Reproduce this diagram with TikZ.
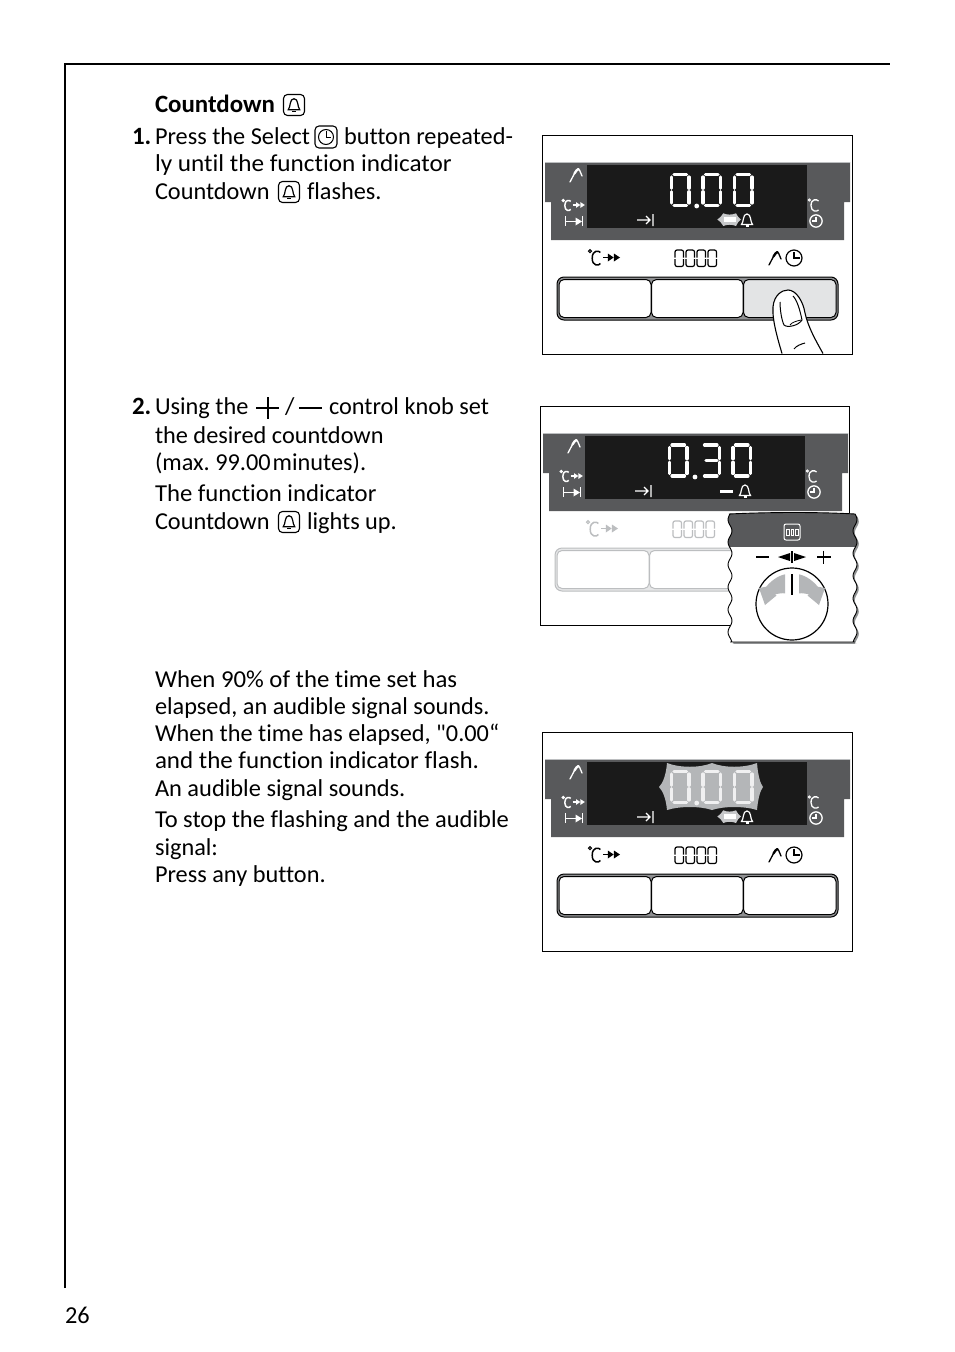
\documentclass[tikz,border=0pt]{standalone}
\usepackage{fontspec}
\usepackage{graphicx}
\setmainfont{Carlito}[Ligatures=NoCommon]
\newfontfamily\plainfont{Carlito}[Ligatures=NoCommon]
\definecolor{bandc}{HTML}{58595B}
\definecolor{screenc}{HTML}{1A1A1A}
\definecolor{flashc}{HTML}{B4B6B8}
\definecolor{dimc}{HTML}{BCBEC0}
\definecolor{pressc}{HTML}{E3E4E5}
\definecolor{midc}{HTML}{8F9092}
\definecolor{dimmidc}{HTML}{E6E7E8}
\tikzset{
  txt/.style={anchor=base west,inner sep=0pt,outer sep=0pt,font=\fontsize{24.3}{26}\selectfont\frenchspacing},
  boldtxt/.style={anchor=base west,inner sep=0pt,outer sep=0pt,font=\fontsize{24.9}{26}\bfseries\selectfont},
  seg/.style={line width=3.2pt,line cap=round},
  framebox/.style={draw=black,line width=1pt,fill=white},
}
\newcommand{\stretched}[2]{\scalebox{#1}[1]{#2}}
% 7-segment digits
\newcommand{\dzero}[3]{\begin{scope}[shift={(#1,#2)},seg,#3]
 \draw (2.5,0)--(15,0); \draw (17.5,2.5)--(17.5,13.8); \draw (17.5,17.2)--(17.5,28.5); \draw (2.5,31)--(15,31);
 \draw (0,17.2)--(0,28.5); \draw (0,2.5)--(0,13.8);\end{scope}}
\newcommand{\dthree}[3]{\begin{scope}[shift={(#1,#2)},seg,#3]
 \draw (2.5,0)--(15,0); \draw (17.5,2.5)--(17.5,13.8); \draw (17.5,17.2)--(17.5,28.5); \draw (2.5,31)--(15,31);
 \draw (4,15.5)--(15,15.5);\end{scope}}
% icons, all centred at the given point
\newcommand{\icontemp}[4]{\begin{scope}[shift={(#1,#2)},scale=#3,#4,line width=1.5pt]
 \draw[line width=1.1pt] (-15,-6.3) circle (1.5);
 \draw (-4.6,-5) .. controls (-6,-7.2) and (-12.8,-7.8) .. (-12.8,0.7) .. controls (-12.8,9) and (-6,8.4) .. (-4.6,6);
 \draw (-2,0)--(4,0);
 \fill (2.8,-4)--(8.7,0)--(2.8,4)--cycle;
 \fill (8.9,-4)--(15,0)--(8.9,4)--cycle;\end{scope}}
\newcommand{\iconclock}[4]{\begin{scope}[shift={(#1,#2)},scale=#3,#4,line width=1.3pt]
 \draw (0,0) circle (7);
 \draw (0,-5)--(0,0)--(-5,0);\end{scope}}
\newcommand{\iconclockb}[4]{\begin{scope}[shift={(#1,#2)},scale=#3,#4,line width=1.2pt]
 \draw (0,0) circle (8);
 \draw (0,-6)--(0,0)--(5.5,0);\end{scope}}
\newcommand{\iconbell}[4]{\begin{scope}[shift={(#1,#2)},scale=#3,#4,line width=1.2pt]
 \draw (-5.5,4.5) .. controls (-3,2) and (-4.5,-6) .. (0,-6) .. controls (4.5,-6) and (3,2) .. (5.5,4.5) -- cycle;
 \draw (-1.5,6)--(1.5,6);\end{scope}}
\newcommand{\iconprobe}[3]{\begin{scope}[shift={(#1,#2)},#3,line cap=round]
 \draw[line width=1.3pt] (0,14) -- (5,4.5) .. controls (7,1) and (8.5,0) .. (9.5,2) -- (12,8);
 \draw[line width=2.3pt] (4.5,5.5) -- (6.5,2.5) -- (8.5,1);\end{scope}}
\newcommand{\iconfour}[3]{\begin{scope}[shift={(#1,#2)},#3,line width=1.2pt]
 \foreach \q in {0,11,22,33}{
  \draw[rounded corners=2pt] (\q,7.6)--(\q,0)--(\q+8.5,0)--(\q+8.5,7.6);
  \draw[rounded corners=2pt] (\q,9)--(\q,16.5)--(\q+8.5,16.5)--(\q+8.5,9);}\end{scope}}
% the display panel
\newcommand{\panelband}[2]{\begin{scope}[shift={(#1,#2)}]
 \fill[bandc] (3,27)--(308,27)--(308,67)--(302,67)--(302,105)--(9,105)--(9,67)--(3,67)--cycle;
 \draw[dimc,line width=.8pt] (3,27)--(308,27);
 \fill[screenc] (45,30) rectangle (265,93);
 \iconprobe{28}{33}{draw=white}
 \icontemp{32}{70}{.72}{draw=white,fill=white}
 \draw[white,line width=1.2pt] (23.7,81)--(23.7,91) (40.3,81)--(40.3,91) (23.7,86.5)--(37,86.5);
 \fill[white] (33.5,82.5)--(40,86.5)--(33.5,90.5)--cycle;
 \draw[white,line width=1.2pt] (95,85)--(108,85) (104,81)--(108,85)--(104,89) (111,79)--(111,91);
 \iconbell{205}{85}{1}{draw=white}
 \draw[white,line width=.9pt] (267.3,65) circle (1.1);
 \draw[white,line width=1.3pt] (276.5,66) .. controls (275,64) and (269,63.5) .. (269,70.5) .. controls (269,77) and (275,77) .. (276.5,75);
 \iconclock{274}{86}{.88}{draw=white}
\end{scope}}
\newcommand{\panellabels}[3]{\begin{scope}[shift={(#1,#2)}]
 \icontemp{63}{122.5}{1}{draw=#3,fill=#3}
 \iconfour{133}{115}{draw=#3}
\end{scope}}
\newcommand{\panelprobeclock}[2]{\begin{scope}[shift={(#1,#2)}]
 \iconprobe{227}{116}{draw=black}
 \iconclockb{252}{123}{1}{draw=black}
\end{scope}}
\newcommand{\smalldash}[2]{\fill[white] (#1,#2) rectangle (#1+13,#2+3);}
\newcommand{\hexmark}[2]{\begin{scope}[shift={(#1,#2)}]
 \fill[flashc!75!white] (175.3,84.5) .. controls (177.5,83) and (180,81) .. (181.3,78.3)
   .. controls (185,80) and (190,80) .. (194,78.3) .. controls (195,81) and (197,83) .. (199,84.5)
   .. controls (197,86) and (195,88) .. (194,91) .. controls (190,89.3) and (185,89.3) .. (181.3,91)
   .. controls (180,88) and (177.5,86) .. (175.3,84.5) -- cycle;
 \fill[white] (181.5,82.2) rectangle (194,86.8);
\end{scope}}
% x, y, line colour, middle colour, fill of third button
\newcommand{\panelbuttons}[5]{\begin{scope}[shift={(#1,#2)}]
 \draw[draw=#3,line width=1pt,fill=#4,rounded corners=7pt] (15,142) rectangle (296,185);
 \draw[draw=#3,line width=1pt,fill=white,rounded corners=5pt] (17,144.5) rectangle (109,182.5);
 \draw[draw=#3,line width=1pt,fill=white,rounded corners=5pt] (109.5,144.5) rectangle (201,182.5);
 \draw[draw=#3,line width=1pt,fill=#5,rounded corners=5pt] (201.5,144.5) rectangle (294,182.5);
\end{scope}}
% inline symbol boxes
\newcommand{\boxbell}[2]{\begin{scope}[shift={(#1,#2)}]
 \draw[black,line width=1.1pt,rounded corners=4pt] (-10.5,-10.5) rectangle (10.5,10.5);
 \iconbell{0}{0}{1.05}{draw=black}\end{scope}}
\newcommand{\boxclock}[2]{\begin{scope}[shift={(#1,#2)}]
 \draw[black,line width=1.1pt,rounded corners=4pt] (-11,-11) rectangle (11,11);
 \draw[black,line width=1pt] (0,0) circle (7.5);
 \draw[black,line width=1pt] (0,-6)--(0,0)--(5,0);\end{scope}}
\newcommand{\kneearrow}{(7,-29.7) .. controls (15,-28) and (22,-22) .. (25.7,-17.3) -- (33,-16) -- (27,1) -- (15.5,-8.5) -- (17,-9.5) .. controls (14,-10.5) and (10,-11) .. (7,-10.7) -- cycle}
\newcommand{\insetpath}{(729,514) .. controls (770,512) and (820,512) .. (855,514)
  -- plot[variable=\t,domain=514:642,samples=65,smooth] ({855+2*sin((\t-514)*16)},\t)
  -- (855,642) -- (730,642)
  -- plot[variable=\t,domain=642:514,samples=65,smooth] ({730-2*sin((\t-514)*16)},\t) -- cycle}
\begin{document}
\begin{tikzpicture}[x=1pt,y=-1pt]
\useasboundingbox (0,0) rectangle (954,1352);
\fill[white] (0,0) rectangle (954,1352);
% page rule
\draw[black,line width=2pt] (65,1288)--(65,64)--(890,64);
% text
\node[boldtxt] (h1) at (155,112) {Countdown};
\boxbell{294}{105}
\node[boldtxt] (n1) at (132,144) {1.};
\node[txt] (t1a) at (155,144) {Press the Select};
\boxclock{326}{137}
\node[txt] (t1b) at (344,144) {button repeated-};
\node[txt] (t1c) at (155,171) {\stretched{1.038}{ly until the function indicator}};
\node[txt] (t1d) at (155,199) {Countdown};
\boxbell{289}{192}
\node[txt] (t1e) at (307,199) {flashes.};
\node[boldtxt] (n2) at (132,414) {2.};
\node[txt] (t2a) at (155,414) {Using the};
\draw[black,line width=2pt] (256,408)--(279,408) (267.5,397)--(267.5,419);
\node[txt] (t2s) at (285,414) {/};
\draw[black,line width=2pt] (299,408)--(322,408);
\node[txt] (t2b) at (329,414) {control knob set};
\node[txt] (t2c) at (155,443) {the desired countdown};
\node[txt] (t2d) at (155,470) {(max. 99.00\kern2pt minutes).};
\node[txt] (t2e) at (155,501) {\stretched{1.018}{The function indicator}};
\node[txt] (t2f) at (155,529) {Countdown};
\boxbell{289}{522}
\node[txt] (t2g) at (307,529) {lights up.};
\node[txt] (t3a) at (155,687) {\stretched{1.02}{When 90\% of the time set has}};
\node[txt] (t3b) at (155,714) {elapsed, an audible signal sounds.};
\node[txt] (t3c) at (155,741) {When the time has elapsed, {\plainfont"}0.00“};
\node[txt] (t3d) at (155,768) {\stretched{1.029}{and the function indicator flash.}};
\node[txt] (t3e) at (155,796) {\stretched{1.005}{An audible signal sounds.}};
\node[txt] (t3f) at (155,827) {\stretched{1.008}{To stop the flashing and the audible}};
\node[txt] (t3g) at (155,855) {signal:};
\node[txt] (t3h) at (155,882) {Press any button.};
\node[txt] (page) at (65,1323) {26};
% PANEL 1
\draw[framebox] (542.5,135.5) rectangle (852.5,354);
\panelband{542}{135}
\dzero{671.5}{174.5}{white}\dzero{703}{174.5}{white}\dzero{734.5}{174.5}{white}
\fill[white] (696.7,206) circle (2.4);
\hexmark{542}{135}
\panellabels{542}{135}{black}
\panelprobeclock{542}{135}
\panelbuttons{542}{135}{black}{midc}{pressc}
\begin{scope}[shift={(542,135)}]
 \fill[white] (240,218.5) .. controls (236,205) and (230,185) .. (231,172)
   .. controls (232,160) and (240,155) .. (246,155) .. controls (254,155) and (261,166) .. (263,178)
   .. controls (266,192) and (274,206) .. (281,218.5) -- cycle;
 \draw[black,line width=1.1pt] (240,218.5) .. controls (236,205) and (230,185) .. (231,172)
   .. controls (232,160) and (240,155) .. (246,155) .. controls (254,155) and (261,166) .. (263,178)
   .. controls (266,192) and (274,206) .. (281,218.5);
 \draw[black,line width=1pt] (238,167) .. controls (238,176) and (240,186) .. (242,190)
   .. controls (245,193) and (256,191) .. (260,185) .. controls (258,175) and (255,165) .. (251,161);
 \draw[black,line width=.8pt] (248,190) .. controls (250,187) and (255,186) .. (259,185);
 \draw[black,line width=1pt] (252,214) .. controls (254,211) and (259,209) .. (263,208);
\end{scope}
% PANEL 2
\draw[framebox] (540.5,406.5) rectangle (849.5,625.5);
\panelband{540}{406}
\dzero{669.5}{445}{white}\dthree{702}{445}{white}\dzero{733}{445}{white}
\fill[white] (695,477) circle (2.4);
\smalldash{720}{490}
\panellabels{540}{406}{dimc}
\panelbuttons{540}{406}{dimc}{dimmidc}{white}
% knob inset
\fill[flashc!80!black,shift={(1.8,1.8)}] \insetpath;
\fill[white] \insetpath;
\begin{scope}
 \clip \insetpath;
 \fill[bandc] (720,505) rectangle (865,547);
\end{scope}
\draw[black,line width=.9pt] \insetpath;
\draw[white,line width=1pt,rounded corners=2pt] (784,524) rectangle (800,540);
\foreach \q in {786.5,791,795.5}{\draw[white,line width=.7pt] (\q,529) rectangle (\q+2.6,535);}
\draw[black,line width=1.2pt] (756,557)--(769,557) (817,557)--(830.5,557) (823.7,550.5)--(823.7,563.5);
\fill[black] (778,557)--(790,553)--(790,561)--cycle (806,557)--(794,553)--(794,561)--cycle;
\draw[black,line width=1.4pt] (792,551)--(792,563);
\draw[black,line width=1.2pt,fill=white] (792,604) circle (36);
\begin{scope}[shift={(792,604)}]
 \fill[flashc] \kneearrow;
 \begin{scope}[xscale=-1]\fill[flashc] \kneearrow;\end{scope}
\end{scope}
\draw[black,line width=1.2pt] (792,574)--(792,595);
% PANEL 3
\draw[framebox] (542.5,732.5) rectangle (852.5,951);
\panelband{542}{732}
\fill[flashc] (659,787)
  .. controls (663,783) and (666,775) .. (667,763) .. controls (680,768) and (700,768) .. (712,763)
  .. controls (724,768) and (744,768) .. (757,763) .. controls (758,775) and (760,783) .. (763,787)
  .. controls (760,791) and (758,799) .. (757,810) .. controls (744,806) and (724,806) .. (712,810)
  .. controls (700,806) and (680,806) .. (667,810) .. controls (666,799) and (663,791) .. (659,787) -- cycle;
\dzero{671.5}{771.5}{white!80!flashc}\dzero{703}{771.5}{white!80!flashc}\dzero{734.5}{771.5}{white!80!flashc}
\fill[white!80!flashc] (696.7,803) circle (2.4);
\hexmark{542}{732}
\panellabels{542}{732}{black}
\panelprobeclock{542}{732}
\panelbuttons{542}{732}{black}{midc}{white}
\end{tikzpicture}
\end{document}
